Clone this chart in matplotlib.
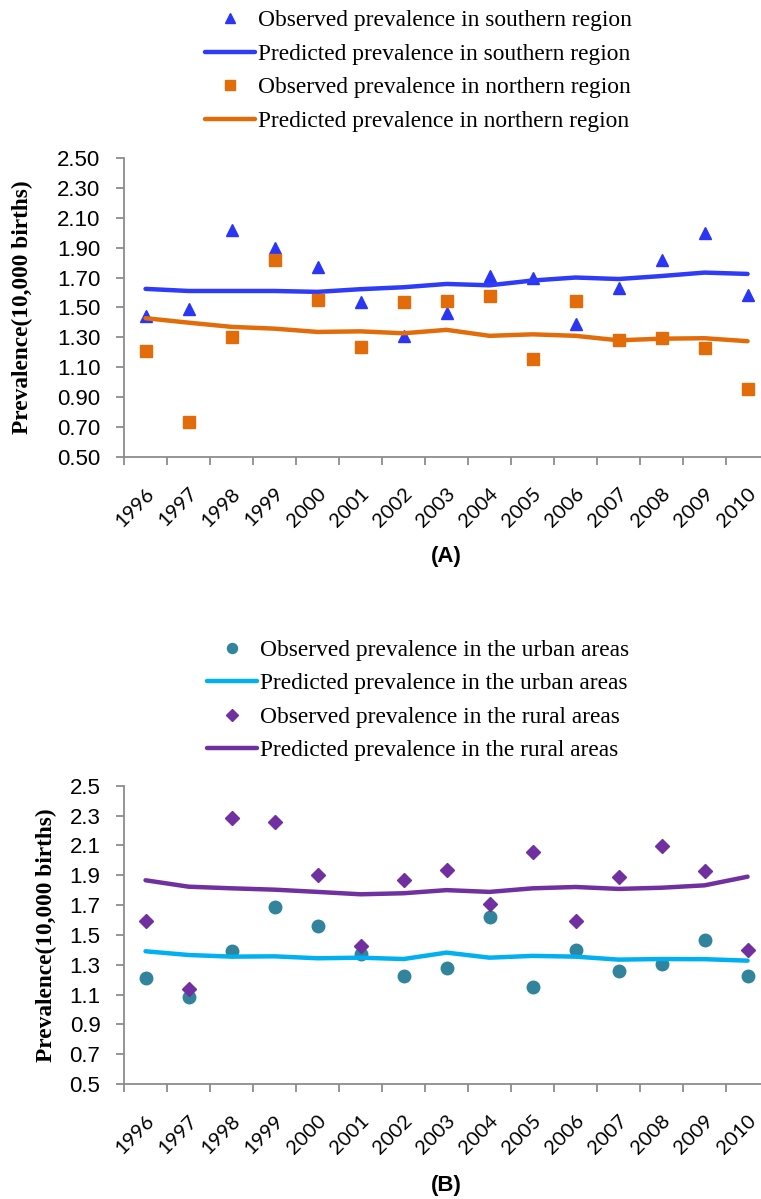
import matplotlib
matplotlib.use("Agg")
import matplotlib.pyplot as plt
import numpy as np

years = ["1996", "1997", "1998", "1999", "2000", "2001", "2002", "2003",
         "2004", "2005", "2006", "2007", "2008", "2009", "2010"]

# panel A - regions
obs_south = [1.44, 1.49, 2.02, 1.90, 1.77, 1.535, 1.31, 1.46, 1.71, 1.70, 1.39, 1.63, 1.82, 2.00, 1.58]
pred_south = [1.624, 1.61, 1.61, 1.61, 1.604, 1.622, 1.635, 1.657, 1.648, 1.68, 1.70, 1.69, 1.71, 1.733, 1.724]
obs_north = [1.21, 0.736, 1.305, 1.82, 1.55, 1.236, 1.535, 1.545, 1.575, 1.153, 1.545, 1.283, 1.296, 1.229, 0.957]
pred_north = [1.428, 1.398, 1.37, 1.358, 1.336, 1.34, 1.327, 1.35, 1.31, 1.32, 1.31, 1.28, 1.291, 1.294, 1.274]

# panel B - urban / rural
obs_urban = [1.213, 1.084, 1.39, 1.69, 1.558, 1.372, 1.225, 1.276, 1.618, 1.151, 1.399, 1.26, 1.303, 1.468, 1.225]
pred_urban = [1.39, 1.365, 1.354, 1.356, 1.343, 1.347, 1.338, 1.381, 1.347, 1.359, 1.354, 1.334, 1.338, 1.337, 1.327]
obs_rural = [1.595, 1.137, 2.284, 2.255, 1.901, 1.426, 1.868, 1.935, 1.707, 2.056, 1.595, 1.89, 2.098, 1.926, 1.399]
pred_rural = [1.866, 1.823, 1.812, 1.803, 1.788, 1.772, 1.779, 1.80, 1.788, 1.812, 1.821, 1.808, 1.816, 1.832, 1.89]

x = np.arange(len(years))

fig = plt.figure(figsize=(7.61, 11.99), dpi=100)

ax1 = fig.add_axes([0.163, 0.6189, 0.8476, 0.2494])
ax2 = fig.add_axes([0.163, 0.0959, 0.8476, 0.2488])

serif = "Liberation Serif"


def style(ax, yticks, fmt, label_x):
    for s in ["top", "right"]:
        ax.spines[s].set_visible(False)
    for s in ["left", "bottom"]:
        ax.spines[s].set_color("#8c8c8c")
        ax.spines[s].set_linewidth(1.3)
    ax.set_xlim(-0.5, 14.5)
    ax.set_ylim(yticks[0], yticks[-1])
    ax.set_yticks(yticks)
    ax.set_yticklabels([fmt % v for v in yticks], family="Liberation Sans", fontsize=16)
    ax.tick_params(axis="y", length=6, width=1.3, color="#8c8c8c", pad=11)
    ax.set_xticks(x)
    ax.set_xticklabels(years, rotation=45, ha="right", va="top", family="Lato",
                       fontsize=14.5, rotation_mode="anchor")
    ax.tick_params(axis="x", which="major", length=0, pad=20)
    ax.set_xticks(np.arange(-0.5, 15, 1), minor=True)
    ax.tick_params(axis="x", which="minor", length=6, width=1.3, color="#8c8c8c")
    ax.set_ylabel("Prevalence(10,000 births)", family=serif, fontweight="bold", fontsize=16.8)
    ax.yaxis.set_label_coords(label_x, 0.5)


# panel A
ax1.plot(x, obs_south, linestyle="none", marker="^", color="#2b36f5", markersize=9,
         label="Observed prevalence in southern region")
ax1.plot(x, pred_south, color="#2e3bf7", linewidth=3.2, solid_capstyle="round",
         label="Predicted prevalence in southern region")
ax1.plot(x, obs_north, linestyle="none", marker="s", color="#e36c0a", markersize=8.5,
         label="Observed prevalence in northern region")
ax1.plot(x, pred_north, color="#e36c0a", linewidth=3.2, solid_capstyle="round",
         label="Predicted prevalence in northern region")
style(ax1, np.round(np.arange(0.5, 2.51, 0.2), 2), "%.2f", -0.141)

# panel B
ax2.plot(x, obs_urban, linestyle="none", marker="o", color="#31849b", markersize=9,
         label="Observed prevalence in the urban areas")
ax2.plot(x, pred_urban, color="#00b0f0", linewidth=3.2, solid_capstyle="round",
         label="Predicted prevalence in the urban areas")
ax2.plot(x, obs_rural, linestyle="none", marker="D", color="#7030a0", markersize=7.5,
         label="Observed prevalence in the rural areas")
ax2.plot(x, pred_rural, color="#7030a0", linewidth=3.2, solid_capstyle="round",
         label="Predicted prevalence in the rural areas")
style(ax2, np.round(np.arange(0.5, 2.51, 0.2), 1), "%.1f", -0.104)

for ax, xl, ytop in [(ax1, 0.2694, 0.9917), (ax2, 0.272, 0.4665)]:
    ax.legend(loc="upper left", bbox_to_anchor=(xl, ytop), bbox_transform=fig.transFigure,
              frameon=False, prop={"family": serif, "size": 16.8}, handlelength=2.14,
              handletextpad=0.13, labelspacing=0.52, borderaxespad=0, borderpad=0,
              markerscale=0.8)

fig.text(0.587, 0.536, "(A)", ha="center", va="center", family="Liberation Sans",
         fontweight="bold", fontsize=16)
fig.text(0.587, 0.011, "(B)", ha="center", va="center", family="Liberation Sans",
         fontweight="bold", fontsize=16)

fig.savefig("out.png", dpi=100)
